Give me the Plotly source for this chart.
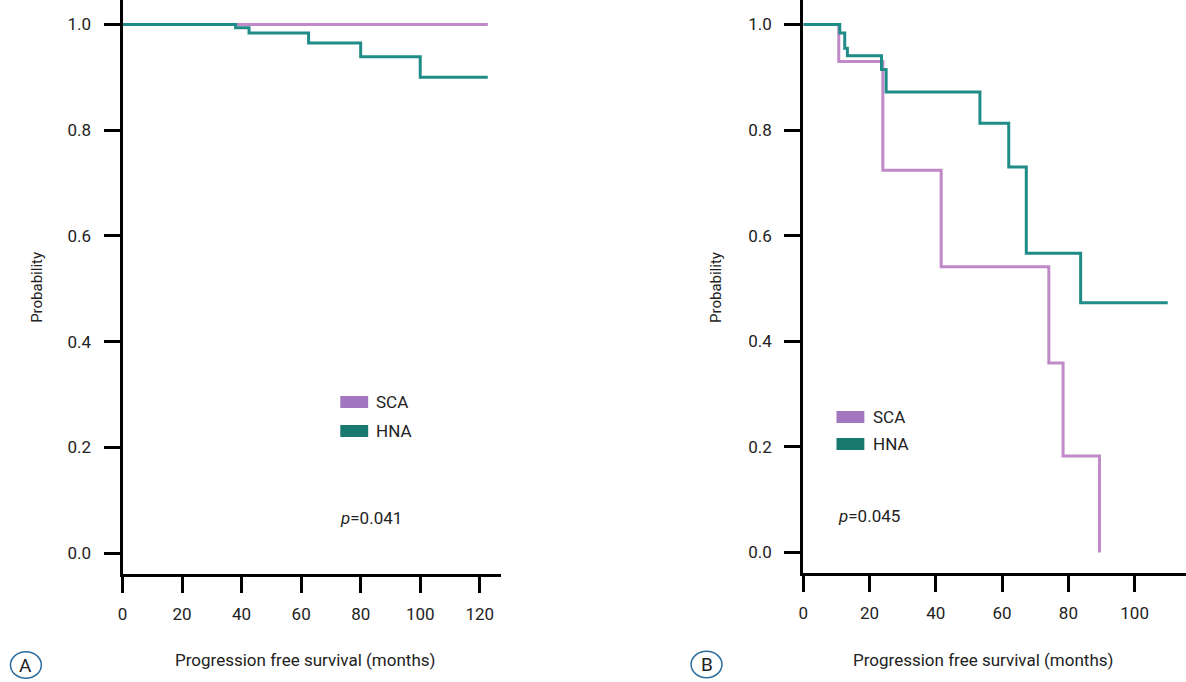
import plotly.graph_objects as go

# ---- data (Kaplan-Meier steps) ----
months_ticks = [0, 20, 40, 60, 80, 100, 120]
prob_ticks = [0.0, 0.2, 0.4, 0.6, 0.8, 1.0]
prob_labels = ["0.0", "0.2", "0.4", "0.6", "0.8", "1.0"]

sca_a_t = [0, 122.7]
sca_a_s = [1.0, 1.0]
hna_a_t = [0, 38, 42.5, 62.5, 80, 100, 122.7]
hna_a_s = [1.0, 0.994, 0.984, 0.965, 0.939, 0.900, 0.900]

sca_b_t = [0, 10.7, 24, 41.6, 74.1, 78.4, 89.4]
sca_b_s = [1.0, 0.930, 0.724, 0.541, 0.359, 0.183, 0.0]
hna_b_t = [0, 11, 12.5, 13.3, 23.6, 25, 53.3, 62, 67.3, 83.7, 110]
hna_b_s = [1.0, 0.984, 0.955, 0.941, 0.915, 0.872, 0.813, 0.730, 0.567, 0.473, 0.473]

groups = ["SCA", "HNA"]
p_values = ["0.041", "0.045"]
panel_labels = ["A", "B"]

W, H = 1186, 682
SCA_COL = "#c089c8"
HNA_COL = "#1f8c88"
SCA_SW = "#a377c0"
HNA_SW = "#18796f"
FONT = "Roboto, Arial"

fig = go.Figure()

def px_x(p):
    return p / W

def px_y(p):
    return 1 - p / H

fig.add_trace(go.Scatter(x=sca_a_t, y=sca_a_s, mode="lines", line=dict(color=SCA_COL, width=3, shape="hv"),
                         xaxis="x", yaxis="y", showlegend=False))
fig.add_trace(go.Scatter(x=hna_a_t, y=hna_a_s, mode="lines", line=dict(color=HNA_COL, width=3, shape="hv"),
                         xaxis="x", yaxis="y", showlegend=False))
fig.add_trace(go.Scatter(x=sca_b_t, y=sca_b_s, mode="lines", line=dict(color=SCA_COL, width=3, shape="hv"),
                         xaxis="x2", yaxis="y2", showlegend=False))
fig.add_trace(go.Scatter(x=hna_b_t, y=hna_b_s, mode="lines", line=dict(color=HNA_COL, width=3, shape="hv"),
                         xaxis="x2", yaxis="y2", showlegend=False))

axis_common = dict(showline=True, linecolor="black", linewidth=3, ticks="outside", ticklen=16,
                   tickwidth=3, tickcolor="black", showgrid=False, zeroline=False,
                   tickfont=dict(family=FONT, size=17, color="#222"))

fig.update_layout(
    width=W, height=H, margin=dict(l=0, r=0, t=0, b=0),
    paper_bgcolor="white", plot_bgcolor="white", showlegend=False,
    xaxis=dict(domain=[px_x(118), px_x(498)], range=[0, 127.1], tickvals=months_ticks,
               anchor="y", ticklabelstandoff=7, **axis_common),
    yaxis=dict(domain=[px_y(574), 1], range=[-0.0397, 1.0464], tickvals=prob_ticks, ticktext=prob_labels,
               anchor="x", ticklabelstandoff=9, **axis_common),
    xaxis2=dict(domain=[px_x(801.7), 1], range=[0, 115.5], tickvals=months_ticks[:6],
                anchor="y2", ticklabelstandoff=7, **axis_common),
    yaxis2=dict(domain=[px_y(573), 1], range=[-0.0388, 1.0464], tickvals=prob_ticks, ticktext=prob_labels,
                anchor="x2", ticklabelstandoff=9, **axis_common),
)

shapes = []
annotations = []

def txt(x, y, text, size=17, angle=0, xanchor="center", color="#222"):
    annotations.append(dict(x=px_x(x), y=px_y(y), xref="paper", yref="paper", text=text, showarrow=False,
                            font=dict(family=FONT, size=size, color=color), textangle=angle,
                            xanchor=xanchor, yanchor="middle"))

# legends, p-values, titles
legend_pos = [(336.7, 396, 425, 371), (835, 411, 438, 870)]
pval_pos = [(334, 518), (835, 516)]
for i, (sx, y1, y2, tx) in enumerate(legend_pos):
    for gy, col, name in [(y1, SCA_SW, groups[0]), (y2, HNA_SW, groups[1])]:
        shapes.append(dict(type="rect", xref="paper", yref="paper", x0=px_x(sx), x1=px_x(sx + 28),
                           y0=px_y(gy + 12), y1=px_y(gy), fillcolor=col, line=dict(width=0)))
        txt(tx, gy + 6, name, size=17, xanchor="left")
    px_, py_ = pval_pos[i]
    txt(px_, py_, "<i>p</i>=" + p_values[i], size=17, xanchor="left")

txt(32, 287, "Probability", size=15, angle=-90)
txt(714, 287, "Probability", size=15, angle=-90)
txt(301, 660, "Progression free survival (months)", size=17)
txt(982, 660, "Progression free survival (months)", size=17)

# panel labels in circles
for (cx, cy), lab in zip([(21, 665), (704.5, 664.5)], panel_labels):
    shapes.append(dict(type="circle", xref="paper", yref="paper", x0=px_x(cx - 15.5), x1=px_x(cx + 15.5),
                       y0=px_y(cy + 13.3), y1=px_y(cy - 13.3), line=dict(color="#2b6e9e", width=1.5)))
    txt(cx, cy, lab, size=19)

fig.update_layout(shapes=shapes, annotations=annotations)
fig.write_html("out.html", config={"displayModeBar": False},
               post_script="document.body.style.margin='0';document.body.style.padding='0';"
                           "document.body.style.overflow='hidden';")
